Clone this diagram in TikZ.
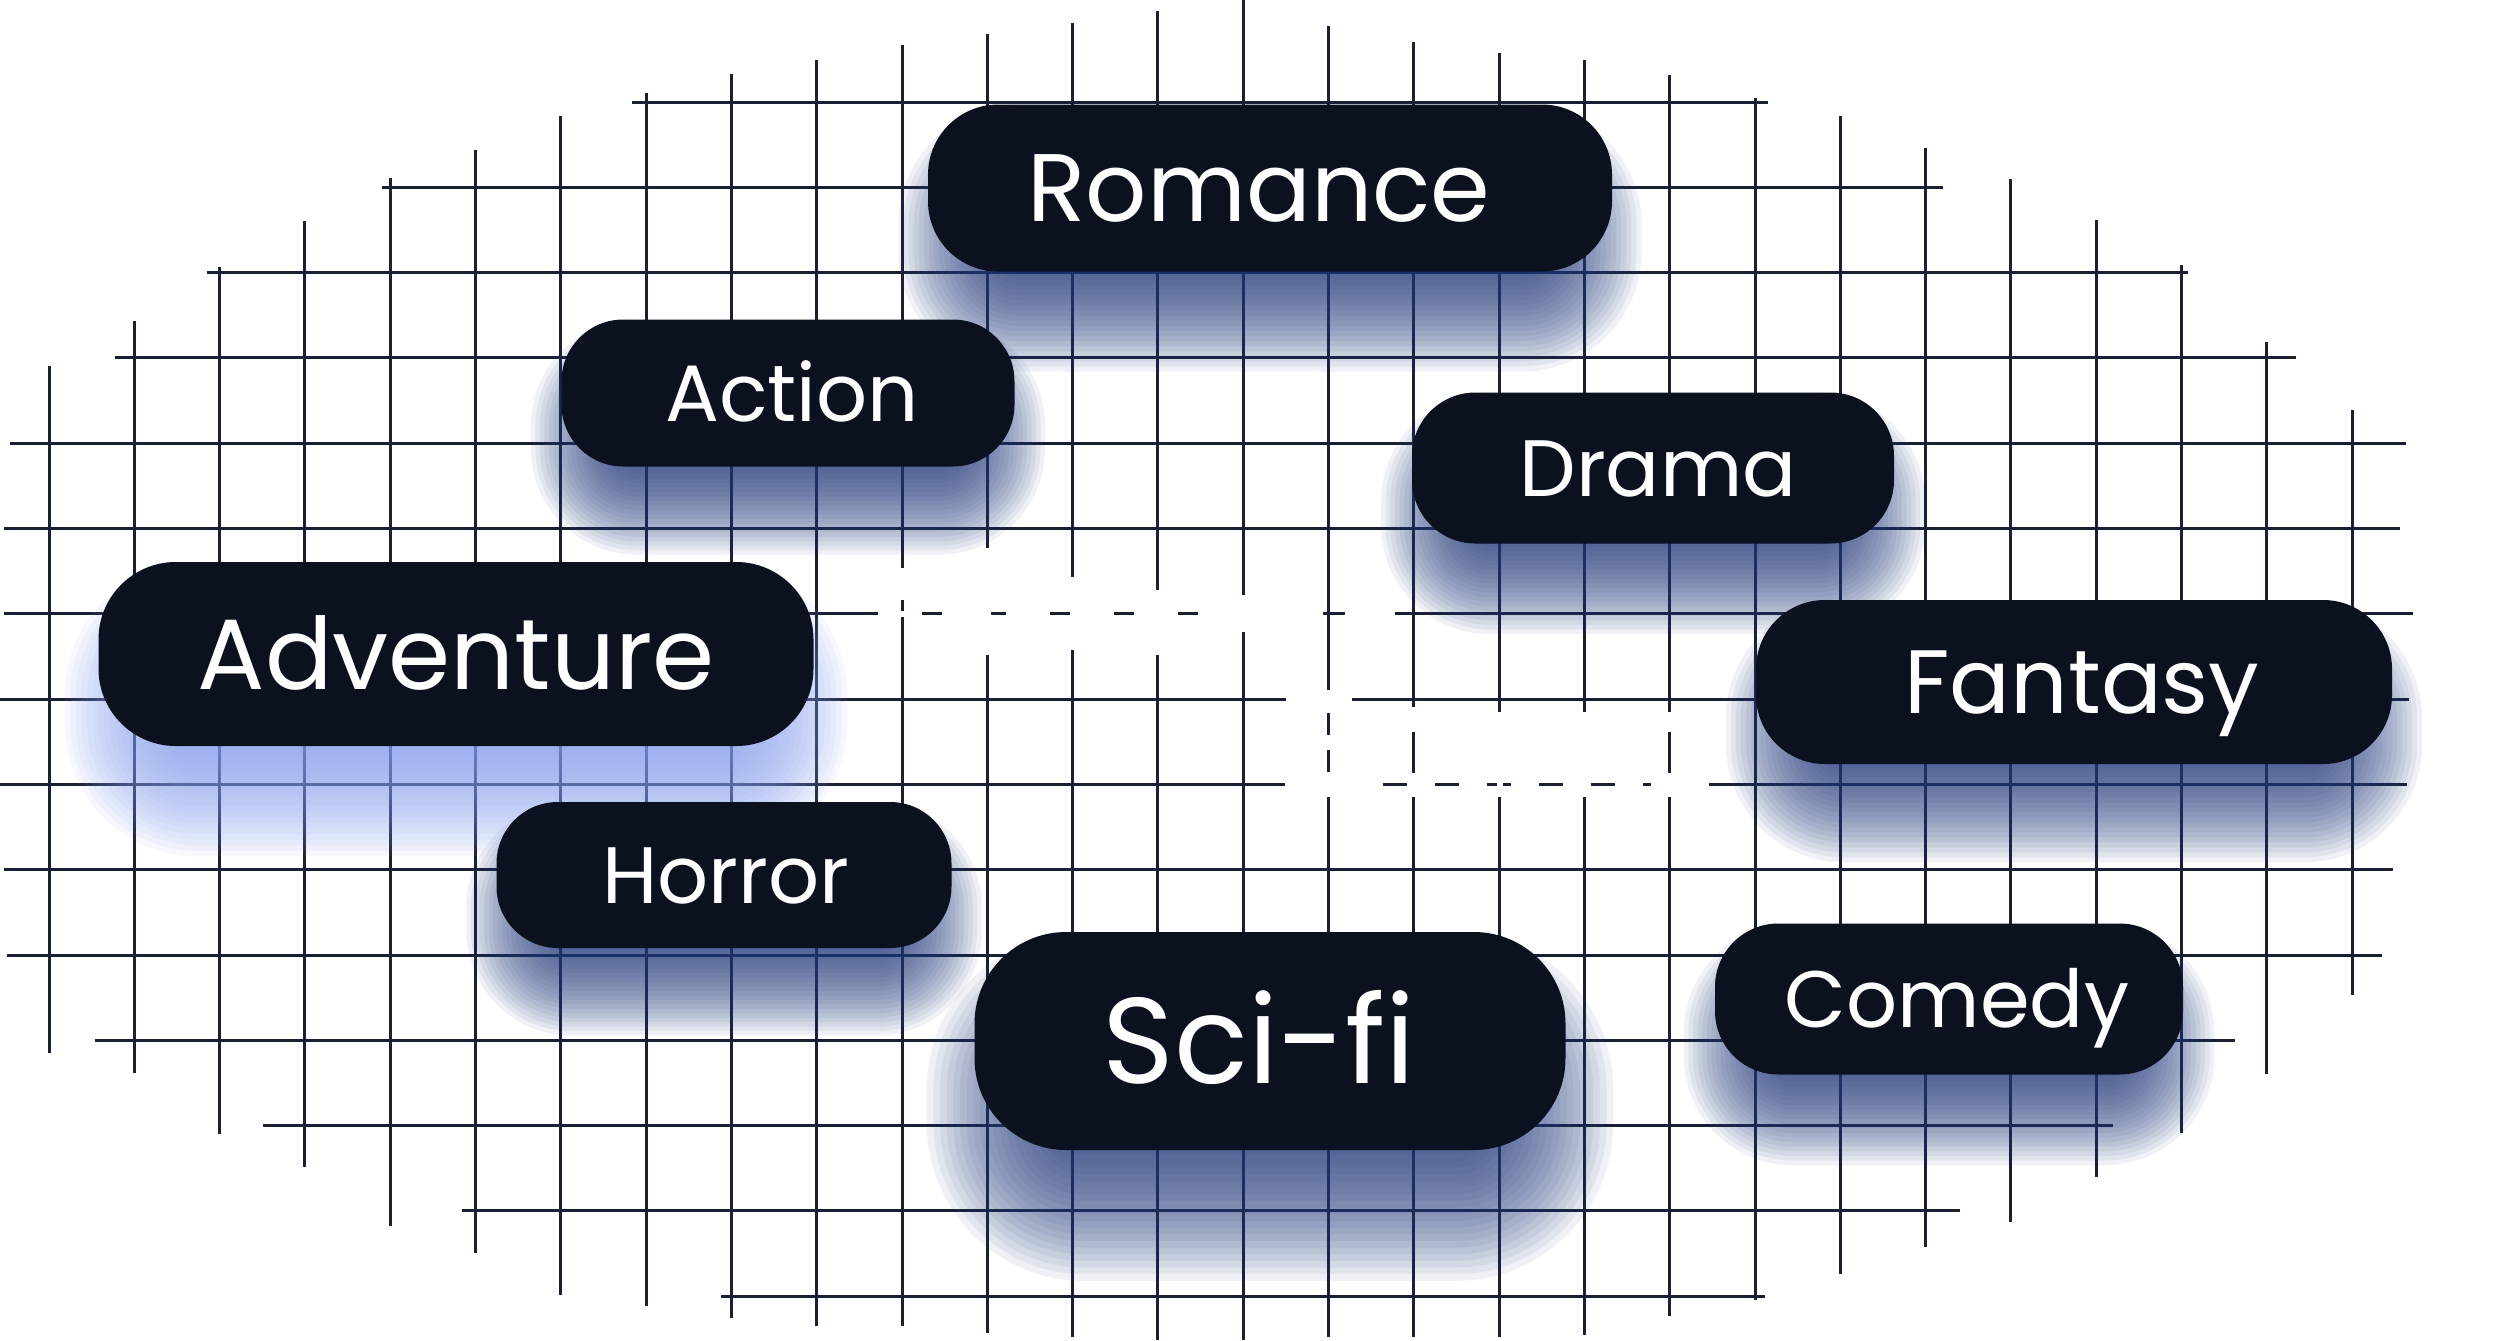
\documentclass[tikz,border=0pt]{standalone}
\usepackage{fontspec}
\setmainfont{Poppins}
\definecolor{gridc}{RGB}{26,31,51}
\definecolor{pillc}{RGB}{12,17,32}
\definecolor{shadowc}{RGB}{40,62,128}
\definecolor{shadowl}{RGB}{135,160,240}
\tikzset{
  gridline/.style={gridc, line width=1.5pt},
  eraser/.style={white, line width=3pt},
  pillbox/.style={fill=pillc, inner sep=0pt, anchor=center},
  pilltext/.style={text=white, inner sep=0pt, text depth=0pt, anchor=center},
}
% #1 name, #2 cx, #3 cy, #4 w, #5 h, #6 font pt, #7 text x-shift px, #8 text, #9 shadow colour
\newcommand\mypill[9]{%
  \pgfmathsetmacro\pr{0.42*#5}%
  \foreach \k in {0,...,19}{%
    \pgfmathsetmacro\ee{(-0.28+0.58*\k/19)*#5}%
    \pgfmathsetmacro\ex{\ee-0.03*#4}%
    \pgfmathsetmacro\rq{max(\pr+\ee,4)}%
    \pgfmathsetmacro\rr{min(\rq,#5/2+\ee-1)}%
    \fill[#9, opacity=0.072, rounded corners=\rr*0.5pt]
      ({#2-#4/2-\ex},{#3+0.3*#5-#5/2-\ee}) rectangle ({#2+#4/2+\ex},{#3+0.3*#5+#5/2+\ee});
  }%
  \node[pillbox, minimum width=#4*0.5pt, minimum height=#5*0.5pt,
        rounded corners=\pr*0.5pt] (#1) at (#2,#3) {};
  \pgfmathsetmacro\capht{0.7*#6}%
  \node[pilltext, font=\fontsize{#6pt}{#6pt}\selectfont, text height=\capht pt]
        (#1-label) at ([xshift=#7*0.5pt]#1.center) {#8};
}
\begin{document}
\begin{tikzpicture}[x=0.5pt,y=-0.5pt]
\useasboundingbox (0,0) rectangle (2497,1340);
\fill[white] (0,0) rectangle (2497,1340);
% vertical grid lines
\foreach \i/\t/\b in {0/366/1053, 1/321/1073, 2/267/1134, 3/221/1167, 4/178/1226,
  5/150/1253, 6/116/1295, 7/93/1306, 8/74/1318, 9/60/1326, 10/45/1326, 11/34/1333,
  12/23/1337, 13/11/1340, 14/0/1340, 15/26/1337, 16/42/1337, 17/53/1337, 18/60/1335,
  19/75/1316, 20/98/1300, 21/116/1274, 22/148/1247, 23/179/1222, 24/220/1177,
  25/265/1133, 26/342/1074, 27/410/995}
  \draw[gridline] ({49+85.3*\i},\t) -- ({49+85.3*\i},\b);
% horizontal grid lines
\foreach \j/\l/\r in {0/632/1768, 1/382/1943, 2/207/2188, 3/115/2296, 4/10/2406,
  5/4/2400, 6/4/2413, 7/0/2409, 8/0/2407, 9/4/2393, 10/7/2382, 11/95/2235,
  12/263/2113, 13/462/1960, 14/721/1765}
  \draw[gridline] (\l,{102+85.3*\j}) -- (\r,{102+85.3*\j});
% white hidden lettering breaking the grid
\draw[eraser] (902,568) -- (902,600);
\draw[eraser] (988,548) -- (988,655);
\draw[eraser] (1074,577) -- (1074,650);
\draw[eraser] (1159,590) -- (1159,655);
\draw[eraser] (1244,595) -- (1244,632);
\draw[eraser, dash pattern=on 22pt off 10pt] (878,614) -- (1240,614);
\draw[eraser] (1240,614) -- (1323,614);
\draw[eraser] (1345,614) -- (1395,614);
\draw[eraser] (1286,700) -- (1352,700);
\draw[eraser] (1285,785) -- (1355,785);
\draw[eraser, dash pattern=on 14pt off 12pt] (1355,785) -- (1651,785);
\draw[eraser] (1651,785) -- (1709,785);
\draw[eraser] (1329,690) -- (1329,713);
\draw[eraser] (1329,735) -- (1329,750);
\draw[eraser] (1329,772) -- (1329,797);
\draw[eraser] (1414,707) -- (1414,732);
\draw[eraser] (1414,773) -- (1414,797);
\draw[eraser] (1500,712) -- (1500,797);
\draw[eraser] (1586,712) -- (1586,797);
\draw[eraser] (1670,712) -- (1670,732);
\draw[eraser] (1670,773) -- (1670,797);
% pills
\mypill{romance}{1270}{188}{684}{167}{48}{-11}{Romance}{shadowc}
\mypill{action}{788}{393}{453}{147}{40}{4}{Action}{shadowc}
\mypill{drama}{1653}{468}{482}{151}{40}{5}{Drama}{shadowc}
\mypill{adventure}{456}{654}{715}{184}{50}{0}{Adventure}{shadowl}
\mypill{fantasy}{2074}{682}{636}{164}{45}{8}{Fantasy}{shadowc}
\mypill{horror}{724}{875}{455}{146}{40}{2}{Horror}{shadowc}
\mypill{comedy}{1949}{999}{468}{151}{40}{8}{Comedy}{shadowc}
\mypill{scifi}{1270}{1041}{591}{218}{61}{-11}{Sci-fi}{shadowc}
\end{tikzpicture}
\end{document}
